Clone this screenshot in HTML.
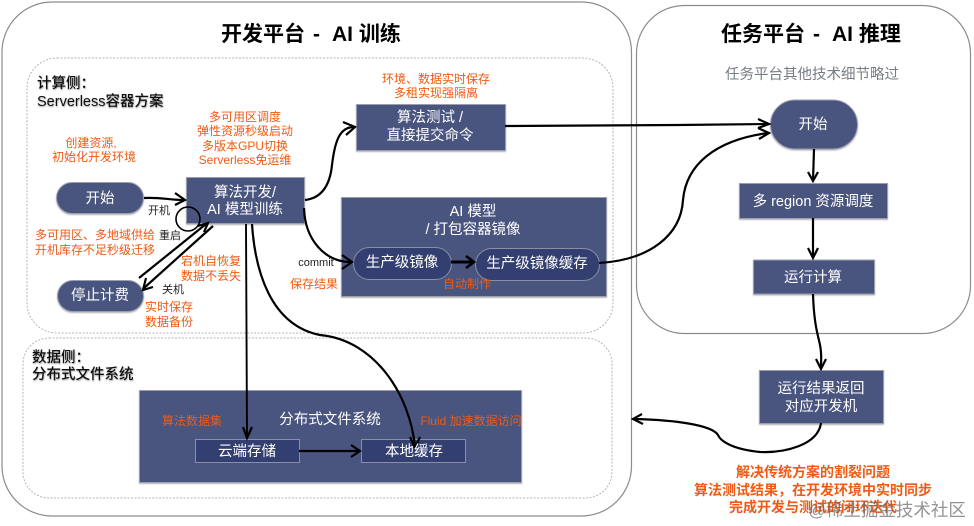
<!DOCTYPE html>
<html><head><meta charset="utf-8"><style>
html,body{margin:0;padding:0;background:#fff;width:974px;height:526px;overflow:hidden}
svg{display:block}
text{font-family:"Liberation Sans","Noto Sans CJK SC",sans-serif;text-anchor:middle}
.w{fill:#fff;font-size:14.5px}
.o{fill:#f05a14;font-size:12px}
.b{fill:#f05a14;font-size:14px;font-weight:700}
.k{fill:#222;font-size:11px}
.h{fill:#000;font-size:21px;font-weight:700;text-anchor:start}
.s{fill:#111;font-size:14.5px;text-anchor:start;font-weight:500;filter:url(#ts)}
.n{fill:#4a557f;stroke:#9a9fb0;stroke-width:1;filter:url(#sh)}
.d{fill:#333f70;stroke:#8a8fa5;stroke-width:1}
.l{fill:none;stroke:#000;stroke-width:2.2}
.a{fill:none;stroke:#000;stroke-width:2.2}
.p{fill:#fff;stroke:#8c8c8c;stroke-width:1.2}
.q{fill:none;stroke:#b5b5b5;stroke-width:1;stroke-dasharray:2 1.5}
</style></head><body>
<svg width="974" height="526" viewBox="0 0 974 526" xmlns="http://www.w3.org/2000/svg">
<defs><filter id="sh" x="-5%" y="-5%" width="110%" height="115%"><feDropShadow dx="0" dy="1" stdDeviation="0.7" flood-color="#000" flood-opacity="0.3"/></filter>
<filter id="ts" x="-5%" y="-20%" width="110%" height="150%"><feDropShadow dx="0.5" dy="1" stdDeviation="0.8" flood-color="#000" flood-opacity="0.4"/></filter></defs>
<rect width="974" height="526" fill="#fff"/>
<rect class="p" x="2" y="2" width="629.5" height="514" rx="50"/>
<rect class="p" x="636.5" y="5.5" width="334" height="328" rx="48"/>
<rect class="q" x="27" y="58" width="586" height="275" rx="30"/>
<rect class="q" x="23" y="338" width="589" height="160" rx="26"/>

<text class="h" x="221" y="41">开发平台</text>
<text class="h" x="313" y="41">-</text>
<text class="h" x="332" y="41">AI 训练</text>
<text class="h" x="721" y="41">任务平台</text>
<text class="h" x="813" y="41">-</text>
<text class="h" x="832" y="41">AI 推理</text>
<text x="812" y="79" style="fill:#777d85;font-size:14.5px">任务平台其他技术细节略过</text>
<text class="s" x="37" y="88">计算侧：</text>
<text class="s" x="37" y="106">Serverless容器方案</text>
<text class="s" x="32" y="362">数据侧：</text>
<text class="s" x="32" y="379">分布式文件系统</text>

<!-- nodes -->
<rect class="n" x="56.5" y="182.5" width="87" height="31" rx="15.5"/>
<rect class="n" x="186.5" y="177.5" width="118" height="46"/>
<rect class="n" x="57.5" y="280.5" width="86" height="31" rx="15.5"/>
<rect class="n" x="356.5" y="104.5" width="149" height="46"/>
<rect class="n" x="341.5" y="197.5" width="265" height="99"/>
<rect class="d" x="353.5" y="247.5" width="98" height="32" rx="16"/>
<rect class="d" x="475.5" y="248.5" width="124" height="32" rx="16"/>
<rect class="n" x="770.5" y="100" width="87" height="49" rx="24.5"/>
<rect class="n" x="739.5" y="183.5" width="148" height="35"/>
<rect class="n" x="753.5" y="260" width="121" height="34"/>
<rect class="n" x="759.5" y="370.5" width="124" height="53"/>
<rect class="n" x="139.5" y="390.5" width="382" height="92"/>
<rect class="d" x="195.5" y="439.5" width="104" height="23"/>
<rect class="d" x="361.5" y="439.5" width="104" height="23"/>

<!-- connectors -->
<path class="l" d="M144 198C160 197 170 200 184 200"/>
<path class="a" d="M175 193L185 200L175 205"/>
<circle cx="188" cy="219" r="12" fill="none" stroke="#000" stroke-width="1.6"/>
<path class="l" d="M139 278L206 224"/>
<path class="a" d="M198 226L208 223L204 232"/>
<path class="l" d="M213 226L144 288"/>
<path class="a" d="M146 278L143 290L153 287"/>
<path class="l" d="M305 200C322 198 330 185 332 165C335 140 340 127 354 127"/>
<path class="a" d="M343 122L355 127L346 135"/>
<path class="l" d="M505 126C600 126 680 125 768 124"/>
<path class="a" d="M758 119L769 124L758 128"/>
<path class="l" d="M304 208C305 240 325 262 351 262"/>
<path class="a" d="M342 255L352 262L342 269"/>
<path class="l" d="M451 262L473 262" style="stroke-width:3"/>
<path class="a" d="M466 256L474 262L466 268" style="stroke-width:2.6"/>
<path class="l" d="M599 263C650 260 681 235 683 200C686 165 715 140 768 133"/>
<path class="a" d="M758 128L769 133L759 139"/>
<path class="l" d="M814 149L813 181"/>
<path class="a" d="M808 172L813 181L818 172"/>
<path class="l" d="M813 218L813 257"/>
<path class="a" d="M808 248L813 258L818 248"/>
<path class="l" d="M813 294C814 325 818 335 820 345C822 355 821 358 821 368"/>
<path class="a" d="M816 359L821 369L826 359"/>
<path class="l" d="M821 423C818 445 785 453 760 452C730 449 720 440 718 435C712 425 675 420 634 419"/>
<path class="a" d="M642 414L633 419L643 424"/>
<path class="l" d="M246 224L247 437" style="stroke-width:1.9"/>
<path class="a" d="M243 427L247 438L252 427"/>
<path class="l" d="M252 224C255 270 270 325 320 335C375 340 410 395 415 447"/>
<path class="a" d="M410 437L415 448L420 437"/>
<path class="l" d="M299 451L359 451"/>
<path class="a" d="M351 445L360 451L351 457"/>

<!-- node text -->
<text class="w" x="100" y="203">开始</text>
<text class="w" x="245" y="197">算法开发/</text>
<text class="w" x="245" y="214">AI 模型训练</text>
<text class="w" x="100" y="300">停止计费</text>
<text class="w" x="430" y="122">算法测试 /</text>
<text class="w" x="430" y="140">直接提交命令</text>
<text class="w" x="473" y="216">AI 模型</text>
<text class="w" x="473" y="234">/ 打包容器镜像</text>
<text class="w" x="402" y="267">生产级镜像</text>
<text class="w" x="537" y="268">生产级镜像缓存</text>
<text class="w" x="813" y="129">开始</text>
<text class="w" x="813" y="206">多 region 资源调度</text>
<text class="w" x="813" y="282">运行计算</text>
<text class="w" x="821" y="393">运行结果返回</text>
<text class="w" x="821" y="411">对应开发机</text>
<text class="w" x="330" y="424">分布式文件系统</text>
<text class="w" x="247" y="456">云端存储</text>
<text class="w" x="414" y="456">本地缓存</text>

<!-- orange -->
<text class="o" x="91" y="147">创建资源,</text>
<text class="o" x="94" y="161">初始化开发环境</text>
<text class="o" x="245" y="121">多可用区调度</text>
<text class="o" x="245" y="135">弹性资源秒级启动</text>
<text class="o" x="245" y="150">多版本GPU切换</text>
<text class="o" x="245" y="164">Serverless免运维</text>
<text class="o" x="436" y="83">环境、数据实时保存</text>
<text class="o" x="436" y="97">多租实现强隔离</text>
<text class="o" x="95" y="239">多可用区、多地域供给</text>
<text class="o" x="95" y="254">开机库存不足秒级迁移</text>
<text class="o" x="211" y="265">宕机自恢复</text>
<text class="o" x="211" y="280">数据不丢失</text>
<text class="o" x="169" y="311">实时保存</text>
<text class="o" x="169" y="326">数据备份</text>
<text class="o" x="314" y="288">保存结果</text>
<text class="o" x="467" y="288">自动制作</text>
<text class="o" x="192" y="425">算法数据集</text>
<text class="o" x="471" y="425">Fluid 加速数据访问</text>
<text class="b" x="813" y="477">解决传统方案的割裂问题</text>
<text class="b" x="813" y="495">算法测试结果，在开发环境中实时同步</text>
<text class="b" x="813" y="512">完成开发与测试的闭环迭代</text>

<!-- small labels -->
<text class="k" x="159" y="214">开机</text>
<text class="k" x="170" y="239">重启</text>
<text class="k" x="173" y="293">关机</text>
<text class="k" x="316" y="266">commit</text>
<text x="887" y="516" style="fill:#666;font-size:17.5px;opacity:.7">@稀土掘金技术社区</text>
</svg>
</body></html>
